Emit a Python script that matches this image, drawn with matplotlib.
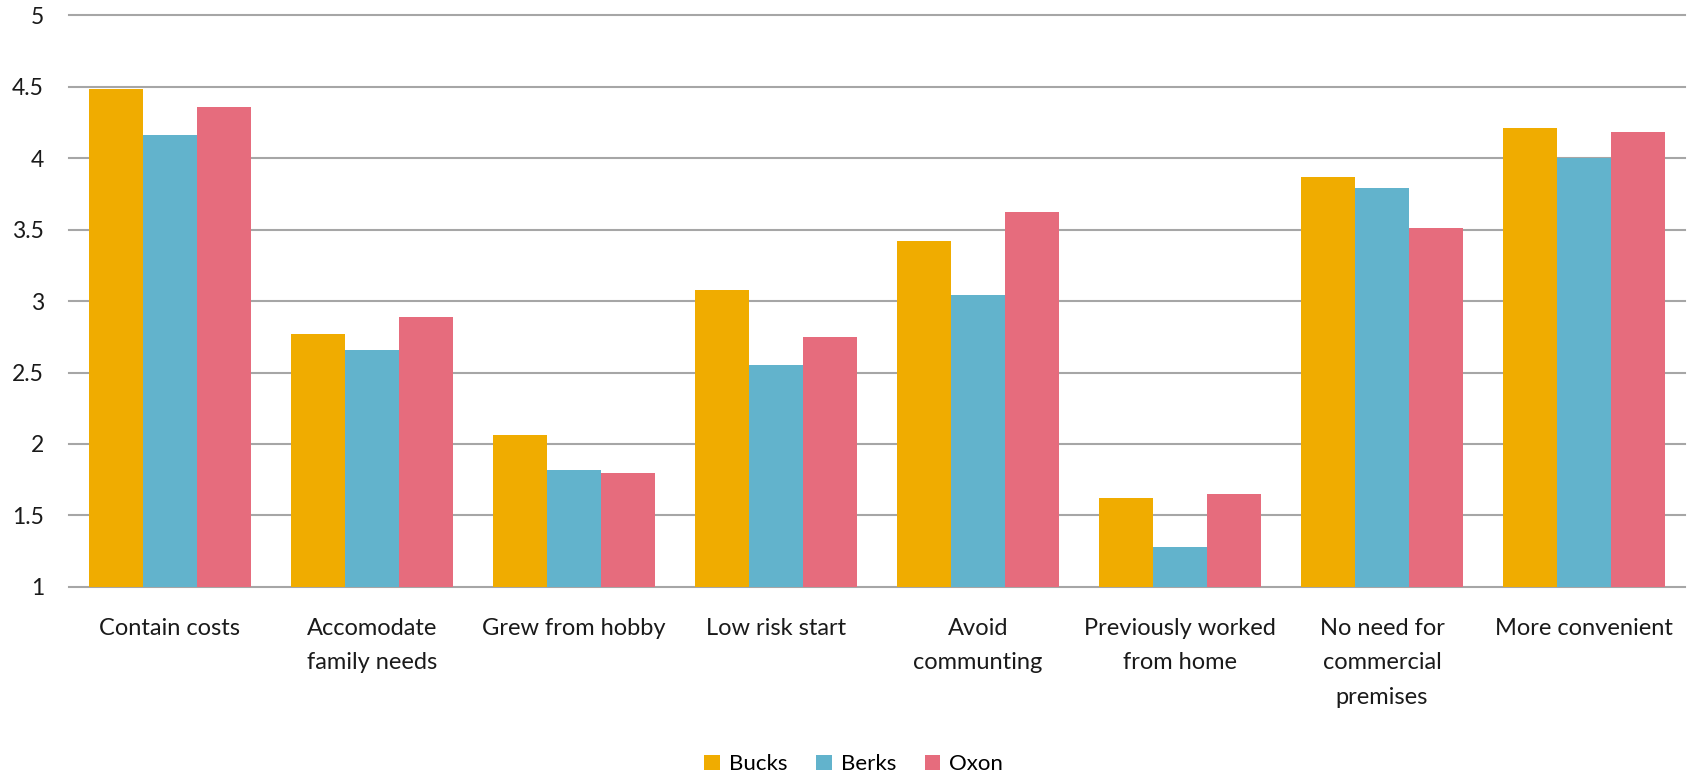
import matplotlib
matplotlib.use("Agg")
import matplotlib.pyplot as plt
import numpy as np

categories = ["Contain costs", "Accomodate\nfamily needs", "Grew from hobby", "Low risk start",
              "Avoid\ncommunting", "Previously worked\nfrom home", "No need for\ncommercial\npremises",
              "More convenient"]
series_names = ["Bucks", "Berks", "Oxon"]
bucks = [4.48, 2.77, 2.06, 3.08, 3.42, 1.62, 3.87, 4.21]
berks = [4.16, 2.66, 1.82, 2.55, 3.04, 1.28, 3.79, 4.00]
oxon = [4.36, 2.89, 1.80, 2.75, 3.62, 1.65, 3.51, 4.18]
y_ticks = [1, 1.5, 2, 2.5, 3, 3.5, 4, 4.5, 5]
y_tick_labels = ["1", "1.5", "2", "2.5", "3", "3.5", "4", "4.5", "5"]
colors = ["#F0AC00", "#62B3CC", "#E66C7D"]

plt.rcParams['font.family'] = ['Lato', 'DejaVu Sans']

fig = plt.figure(figsize=(16.94, 7.75), dpi=100)
ax = fig.add_axes([0.0407, 0.2426, 0.954, 0.738])

x = np.arange(len(categories))
w = 0.266
for i, (vals, name, c) in enumerate(zip([bucks, berks, oxon], series_names, colors)):
    ax.bar(x + (i - 1) * w, np.array(vals) - 1, w, bottom=1, color=c, label=name, zorder=3)

ax.set_xlim(-0.5, len(categories) - 0.5)
ax.set_ylim(1, 5)
ax.set_yticks(y_ticks)
ax.set_yticklabels(y_tick_labels, ha='right')
ax.set_xticks(x)
ax.set_xticklabels(categories, linespacing=1.8)
for yt in y_ticks:
    ax.axhline(yt, color="#A6A6A6", lw=1.5, zorder=1, clip_on=False)
for s in ax.spines.values():
    s.set_visible(False)
ax.tick_params(axis='y', length=0, pad=18, labelsize=16.5, labelcolor="#1a1a1a")
ax.tick_params(axis='x', length=0, pad=22, labelsize=17, labelcolor="#1a1a1a")
for lab in ax.get_xticklabels():
    lab.set_verticalalignment('top')

leg = fig.legend(loc='center', bbox_to_anchor=(0.504, 0.014), ncol=3, frameon=False,
                 fontsize=16, handlelength=0.7, handleheight=0.7, handletextpad=0.4,
                 columnspacing=1.3)
fig.savefig("out.png", dpi=100, facecolor="white")
